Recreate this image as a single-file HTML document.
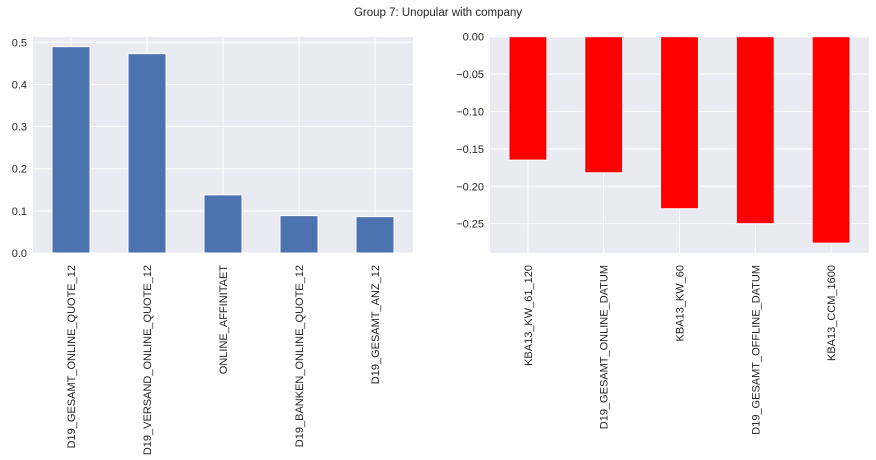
<!DOCTYPE html>
<html><head><meta charset="utf-8"><style>
body{margin:0;background:#fff;}
svg{display:block;font-family:"Liberation Sans",sans-serif;}
</style></head><body>
<svg id="chart" width="876" height="460">
<text x="438" y="16" text-anchor="middle" font-size="11.5" fill="#262626">Group 7: Unopular with company</text>
</svg>
<script>
const leftCats = ["D19_GESAMT_ONLINE_QUOTE_12","D19_VERSAND_ONLINE_QUOTE_12","ONLINE_AFFINITAET","D19_BANKEN_ONLINE_QUOTE_12","D19_GESAMT_ANZ_12"];
const leftVals = [0.4895,0.473,0.138,0.0886,0.0862];
const leftTicks = [0.0,0.1,0.2,0.3,0.4,0.5];
const leftTickLabels = ["0.0","0.1","0.2","0.3","0.4","0.5"];
const rightCats = ["KBA13_KW_61_120","D19_GESAMT_ONLINE_DATUM","KBA13_KW_60","D19_GESAMT_OFFLINE_DATUM","KBA13_CCM_1600"];
const rightVals = [-0.165,-0.182,-0.230,-0.250,-0.276];
const rightTicks = [0,-0.05,-0.10,-0.15,-0.20,-0.25];
const rightTickLabels = ["0.00","\u22120.05","\u22120.10","\u22120.15","\u22120.20","\u22120.25"];

const svg = document.getElementById('chart');
const NS = "http://www.w3.org/2000/svg";
function mk(tag, attrs){const e=document.createElementNS(NS,tag);for(const k in attrs)e.setAttribute(k,attrs[k]);svg.appendChild(e);return e;}

function panel(prefix, x0, x1, y0, y1, dmin, dmax, cats, vals, ticks, tickLabels, color){
  const yS = v => y1 - (v - dmin)/(dmax - dmin)*(y1 - y0);
  const step = (x1 - x0)/cats.length;
  const xC = i => x0 + step*(i+0.5);
  const bg = mk('rect',{x:x0,y:y0,width:x1-x0,height:y1-y0,fill:'#eaeaf2'});
  
  
  ticks.forEach((t,i)=>{
    const g = mk('line',{x1:x0,x2:x1,y1:yS(t),y2:yS(t),stroke:'#fff','stroke-width':1});
    
    
    const tl = mk('text',{x:x0-6,y:yS(t)+4,'text-anchor':'end','font-size':11,fill:'#262626'});
    tl.textContent = tickLabels[i];
    
    
  });
  cats.forEach((c,i)=>{
    const g = mk('line',{x1:xC(i),x2:xC(i),y1:y0,y2:y1,stroke:'#fff','stroke-width':1});
    
    
  });
  const zero = yS(0);
  cats.forEach((c,i)=>{
    const yv = yS(vals[i]);
    const b = mk('rect',{x:xC(i)-step*0.25,y:Math.min(yv,zero),width:step*0.5,height:Math.abs(yv-zero),fill:color,stroke:'#fff','stroke-width':1});
    
    
    const tx = xC(i)+4, ty = 265;
    const l = mk('text',{x:tx,y:ty,transform:`rotate(-90 ${tx} ${ty})`,'text-anchor':'end','font-size':11,fill:'#262626'});
    l.textContent = c;
    
    
  });
}
panel('left', 33, 413, 37, 253, 0, 0.5125, leftCats, leftVals, leftTicks, leftTickLabels, '#4c72b0');
panel('right', 490, 869, 36.7, 253, -0.2892, 0, rightCats, rightVals, rightTicks, rightTickLabels, '#ff0000');
</script>
</body></html>
